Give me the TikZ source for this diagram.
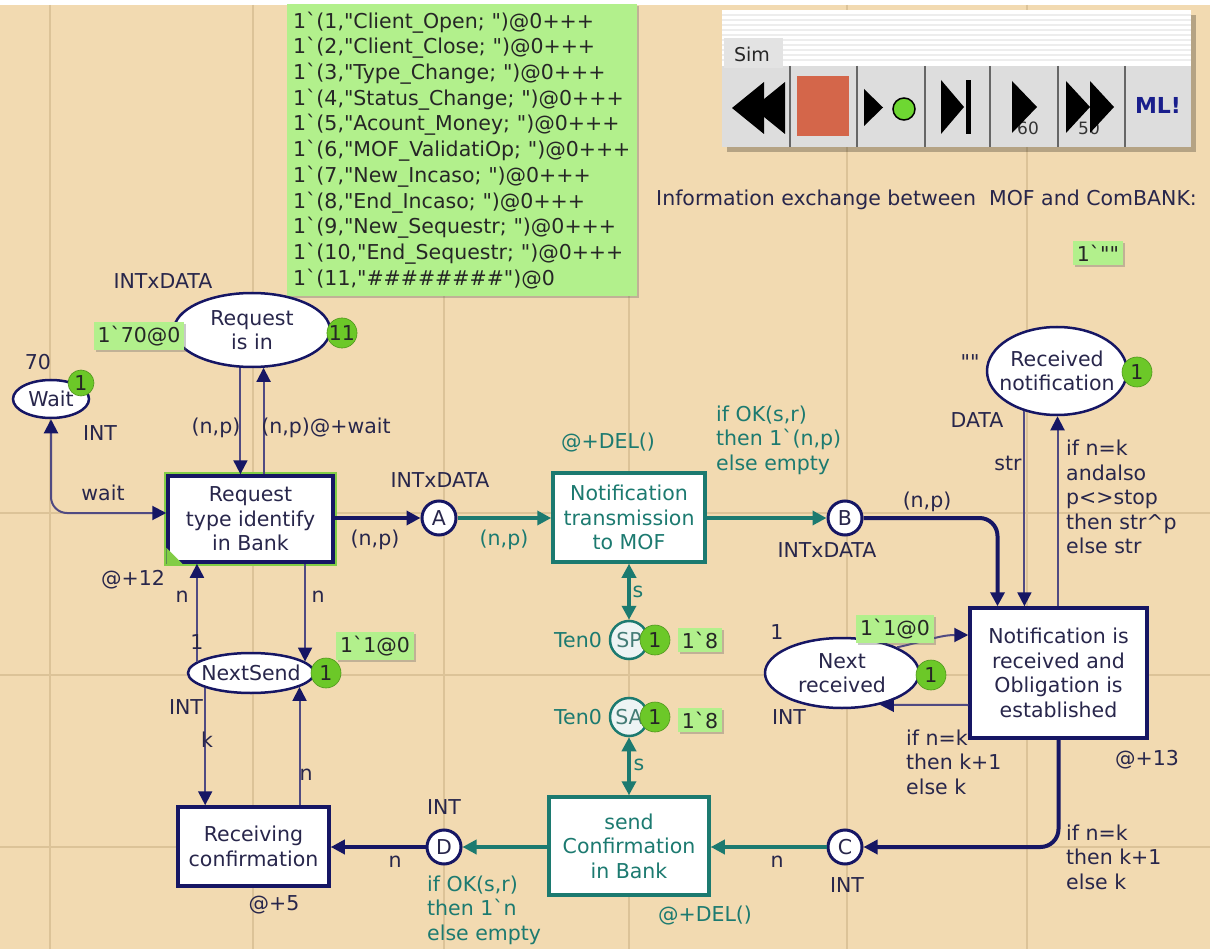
\documentclass[tikz,border=0pt]{standalone}
\usepackage{fontspec}
\setmainfont{DejaVu Sans}[Ligatures=TeXOff]
\usetikzlibrary{arrows.meta,shapes.geometric,shadows,calc}
\definecolor{bgc}{RGB}{242,218,177}
\definecolor{gridc}{RGB}{220,195,152}
\definecolor{navy}{RGB}{22,22,100}
\definecolor{thinc}{RGB}{80,74,130}
\definecolor{tealc}{RGB}{28,122,112}
\definecolor{txtc}{RGB}{40,38,75}
\definecolor{markg}{RGB}{178,240,140}
\definecolor{badgeg}{RGB}{108,200,40}
\definecolor{glowg}{RGB}{130,205,70}
\definecolor{redbtn}{RGB}{212,102,74}
\definecolor{btngray}{RGB}{221,221,221}
\definecolor{mlblue}{RGB}{25,30,140}
\tikzset{
  fsz/.style={font=\fontsize{20.5}{24.5}\selectfont},
  lbl/.style={fsz, text=txtc, inner sep=0pt},
  tlbl/.style={fsz, text=tealc, inner sep=0pt},
  placeshape/.style={ellipse, draw=navy, line width=2.5pt, fill=white, inner sep=0pt},
  ptext/.style={fsz, text=txtc, align=center, inner sep=0pt},
  smallplace/.style={circle, draw=navy, line width=3pt, fill=white, minimum size=34pt, inner sep=0pt, fsz, text=txtc},
  tenplace/.style={circle, draw=tealc, line width=2.5pt, fill=white!92!tealc, minimum size=38pt, inner sep=0pt, fsz, text=tealc!60!gray},
  transbox/.style={rectangle, draw=navy, line width=3.5pt, fill=white, fsz, text=txtc, align=center, inner sep=0pt},
  ttransbox/.style={rectangle, draw=tealc, line width=3.5pt, fill=white, fsz, text=tealc, align=center, inner sep=0pt},
  markbox/.style={rectangle, fill=markg, fsz, text=black!85, inner sep=4pt, drop shadow={shadow xshift=2pt, shadow yshift=-2pt, opacity=0.35, fill=black!60}},
  badge/.style={circle, fill=badgeg, draw=badgeg!75!black, line width=0.6pt, minimum size=30pt, inner sep=0pt, fsz, text=black!85},
  arrowtip/.style={-{Triangle[length=14pt,width=14pt]}},
  navytip/.style={-{Triangle[length=14pt,width=14pt,color=navy]}},
  bothtips/.style={{Triangle[length=14pt,width=14pt]}-{Triangle[length=14pt,width=14pt]}},
  bothnavy/.style={{Triangle[length=14pt,width=14pt,color=navy]}-{Triangle[length=14pt,width=14pt,color=navy]}},
  arcthinst/.style={draw=thinc, line width=2pt, navytip},
  arcthick/.style={draw=navy, line width=4pt, arrowtip},
  arcteal/.style={draw=tealc, line width=4pt, arrowtip},
  gridline/.style={draw=gridc, line width=2pt},
}
\begin{document}
\begin{tikzpicture}[x=1pt,y=-1pt]
\useasboundingbox (0,0) rectangle (1210,949);
\fill[bgc] (0,0) rectangle (1210,949);
\fill[white] (0,0) rectangle (1210,5);
% grid
\foreach \gx in {50,253,444,629,847,1027} {\draw[gridline] (\gx,5) -- (\gx,949);}
\foreach \gy in {513,675,847} {\draw[gridline] (0,\gy) -- (1210,\gy);}

% ---------- Sim toolbar ----------
\fill[black, opacity=0.25] (727,15) rectangle (1196,152);
\fill[white] (722,10) rectangle (1191,147);
\foreach \sy in {15,20,...,60} {\draw[black!7, line width=1.5pt] (722,\sy) -- (1191,\sy);}
\fill[btngray] (722,66) rectangle (1191,147);
\fill[black!11] (724,38) rectangle (783,68);
\node[font=\fontsize{19}{21}\selectfont, text=black!85, inner sep=0pt] (simtab) at (752,54) {Sim};
\foreach \sx in {790,857,925,990,1058,1125} {\draw[black!60, line width=2.5pt] (\sx,66) -- (\sx,147);}
\fill[black] (732,108) -- (764,82) -- (764,134) -- cycle;
\fill[black] (753,108) -- (785,82) -- (785,134) -- cycle;
\fill[redbtn] (797,76) rectangle (849,136);
\fill[black] (864,89) -- (883,107.5) -- (864,126) -- cycle;
\filldraw[fill={rgb,255:red,110;green,215;blue,50}, draw=black, line width=1.5pt] (904,109) circle (11);
\fill[black] (941,80) -- (964,107) -- (941,134) -- cycle;
\fill[black] (966,80) rectangle (971,134);
\node[font=\fontsize{17}{19}\selectfont, text=black!80, inner sep=0pt] (sixty) at (1028,128) {60};
\fill[black] (1012,81) -- (1037,107) -- (1012,133) -- cycle;
\node[font=\fontsize{17}{19}\selectfont, text=black!80, inner sep=0pt] (fifty) at (1089,128) {50};
\fill[black] (1066,81) -- (1090,107) -- (1066,133) -- cycle;
\fill[black] (1090,81) -- (1114,107) -- (1090,133) -- cycle;
\node[font=\bfseries\fontsize{22}{24}\selectfont, text=mlblue, inner sep=0pt] (ml) at (1158,105) {ML!};

\node[fsz, text=txtc, anchor=west, inner sep=0pt] (info) at (656,200) {Information exchange between\ \ MOF and ComBANK:};
\node[markbox] (m0) at (1098,253) {1`""};

% ---------- big marking ----------
\node[markbox, anchor=north west, align=left, font=\fontsize{20.5}{25.7}\selectfont, minimum width=350pt, minimum height=292pt, text width=338pt, inner sep=6pt] (big) at (287,4) {1`(1,"Client\_Open; ")@0+++\\
1`(2,"Client\_Close; ")@0+++\\
1`(3,"Type\_Change; ")@0+++\\
1`(4,"Status\_Change; ")@0+++\\
1`(5,"Acount\_Money; ")@0+++\\
1`(6,"MOF\_ValidatiOp; ")@0+++\\
1`(7,"New\_Incaso; ")@0+++\\
1`(8,"End\_Incaso; ")@0+++\\
1`(9,"New\_Sequestr; ")@0+++\\
1`(10,"End\_Sequestr; ")@0+++\\
1`(11,"\#\#\#\#\#\#\#\#")@0};

% ---------- places ----------
\node[placeshape, minimum width=156pt, minimum height=74pt] (ri) at (252,330) {};
\node[ptext] (rit) at (ri.center) {Request\\is in};
\node[placeshape, minimum width=76pt, minimum height=38pt] (wt) at (51,399) {};
\node[ptext] (wtt) at (wt.center) {Wait};
\node[placeshape, minimum width=126pt, minimum height=40pt] (ns) at (251,673) {};
\node[ptext] (nst) at (ns.center) {NextSend};
\node[placeshape, minimum width=140pt, minimum height=88pt] (rn) at (1057,371) {};
\node[ptext] (rnt) at (rn.center) {Received\\notification};
\node[placeshape, minimum width=154pt, minimum height=70pt] (nr) at (842,673) {};
\node[ptext] (nrt) at (nr.center) {Next\\received};
\node[smallplace] (A) at (439,518) {A};
\node[smallplace] (B) at (845,518) {B};
\node[smallplace] (C) at (845,847) {C};
\node[smallplace] (D) at (444,847) {D};
\node[tenplace] (SP) at (629,640) {SP};
\node[tenplace] (SA) at (629,717) {SA};

% ---------- transitions ----------
\node[transbox, minimum width=165pt, minimum height=86pt, preaction={draw=glowg, line width=8pt}] (rt) at (250.5,519) {Request\\type identify\\in Bank};
\fill[glowg] (rt.south west) -- ++(16,0) -- ++(-16,-16) -- cycle;
\node[ttransbox, minimum width=152pt, minimum height=89pt] (nt) at (629,517.5) {Notification\\transmission\\to MOF};
\node[transbox, minimum width=177pt, minimum height=130pt] (nrb) at (1058.5,673) {Notification is\\received and\\Obligation is\\established};
\node[ttransbox, minimum width=160pt, minimum height=98pt] (sc) at (629,846) {send\\Confirmation\\in Bank};
\node[transbox, minimum width=151pt, minimum height=79pt] (rc) at (253.5,846.5) {Receiving\\confirmation};

% ---------- arcs ----------
\draw[arcthinst, bothnavy, rounded corners=16pt] (wt.south) |- ([yshift=6pt]rt.west);
\draw[arcthinst] (ri.253) -- (ri.253 |- rt.north);
\draw[arcthinst] (ri.287 |- rt.north) -- (ri.287);
\draw[arcthick] (rt.east |- A) -- (A);
\draw[arcteal] (A) -- (nt.west |- A);
\draw[arcteal] (nt.east |- B) -- (B);
\draw[arcthick, rounded corners=18pt] (B) -| ([xshift=-61pt]nrb.north);
\draw[arcthinst] (rn.231) -- (rn.231 |- nrb.north);
\draw[arcthinst] ([xshift=0.5pt]rn.south |- nrb.north) -- ([xshift=0.5pt]rn.south);
\draw[arcteal, bothtips] (nt) -- (SP);
\draw[arcteal, bothtips] (SA) -- (sc);
\draw[arcthinst] (nr.25) to[out=12,in=180] ([yshift=38pt]nrb.west);
\draw[arcthinst] ([yshift=-32pt]nrb.west) -- (nr.320);
\draw[arcthick, rounded corners=18pt] (nrb.south) |- (C);
\draw[arcteal] (C) -- (sc.east |- C);
\draw[arcteal] (sc.west |- D) -- (D);
\draw[arcthick] (D) -- (rc.east |- D);
\draw[arcthinst] (ns.168) -- (ns.168 |- rt.south);
\draw[arcthinst] (ns.12 |- rt.south) -- (ns.12);
\draw[arcthinst] (ns.198) -- (ns.198 |- rc.north);
\draw[arcthinst] (ns.344 |- rc.north) -- (ns.344);

% ---------- badges ----------
\node[badge] (b1) at (342,333) {11};
\node[badge, minimum size=26pt] (b2) at (81,383) {1};
\node[badge] (b3) at (326,673) {1};
\node[badge] (b4) at (1137,372) {1};
\node[badge] (b5) at (931,675) {1};
\node[badge] (b6) at (655,640) {1};
\node[badge] (b7) at (655,717) {1};

% ---------- markings ----------
\node[markbox] (m1) at (139,336) {1`70@0};
\node[markbox] (m2) at (375,646) {1`1@0};
\node[markbox] (m3) at (895,629) {1`1@0};
\node[markbox] (m4) at (700,640) {1`8};
\node[markbox] (m5) at (700,720) {1`8};

% ---------- labels ----------
\node[lbl] (l1) at (163,281) {INTxDATA};
\node[lbl] (l2) at (38,362) {70};
\node[lbl] (l3) at (100,433) {INT};
\node[lbl] (l4) at (103,493) {wait};
\node[lbl] (l5) at (216,428) {(n,p)};
\node[lbl] (l6) at (326,428) {(n,p)@+wait};
\node[lbl] (l7) at (133,580) {@+12};
\node[lbl] (l8) at (182,597) {n};
\node[lbl] (l9) at (318,597) {n};
\node[lbl] (l10) at (197,642) {1};
\node[lbl] (l11) at (186,707) {INT};
\node[lbl] (l12) at (207,740) {k};
\node[lbl] (l13) at (306,775) {n};
\node[lbl] (l14) at (274,905) {@+5};
\node[lbl] (l15) at (444,807) {INT};
\node[lbl] (l16) at (395,862) {n};
\node[tlbl, anchor=west, align=left] (l17) at (427,910) {if OK(s,r)\\then 1`n\\else empty};
\node[lbl] (l18) at (440,480) {INTxDATA};
\node[lbl] (l19) at (375,540) {(n,p)};
\node[tlbl] (l20) at (504,540) {(n,p)};
\node[tlbl] (l21) at (608,443) {@+DEL()};
\node[tlbl, anchor=west, align=left] (l22) at (716,440) {if OK(s,r)\\then 1`(n,p)\\else empty};
\node[lbl] (l23) at (927,502) {(n,p)};
\node[lbl] (l24) at (827,550) {INTxDATA};
\node[lbl] (l25) at (970,362) {""};
\node[lbl] (l26) at (977,420) {DATA};
\node[lbl] (l27) at (1008,463) {str};
\node[lbl, anchor=west, align=left] (l28) at (1066,497) {if n=k\\andalso\\p<>stop\\then str\^{}p\\else str};
\node[lbl] (l29) at (777,632) {1};
\node[lbl] (l30) at (789,717) {INT};
\node[lbl, anchor=west, align=left] (l31) at (906,762) {if n=k\\then k+1\\else k};
\node[lbl] (l32) at (1147,760) {@+13};
\node[lbl, anchor=west, align=left] (l33) at (1066,857) {if n=k\\then k+1\\else k};
\node[lbl] (l34) at (777,862) {n};
\node[lbl] (l35) at (847,885) {INT};
\node[tlbl] (l36) at (705,915) {@+DEL()};
\node[tlbl] (l37) at (578,640) {Ten0};
\node[tlbl] (l38) at (578,717) {Ten0};
\node[tlbl] (l39) at (638,592) {s};
\node[tlbl] (l40) at (639,765) {s};
\end{tikzpicture}
\end{document}
